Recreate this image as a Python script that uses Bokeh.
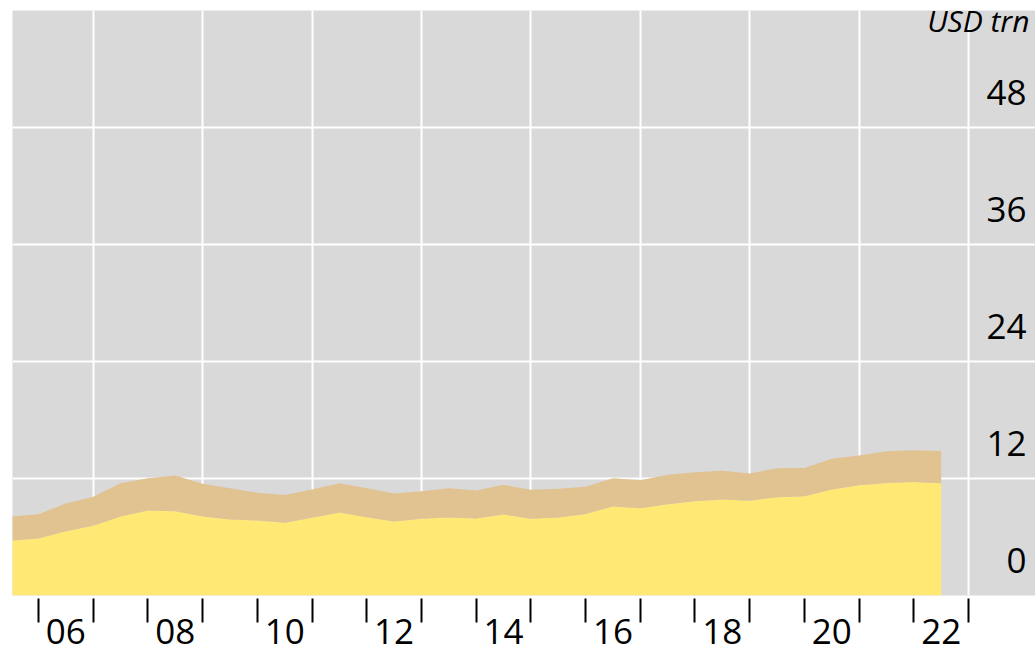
from bokeh.plotting import figure
from bokeh.models import ColumnDataSource, FixedTicker, LabelSet, Label
from bokeh.core.properties import value
from bokeh.embed import file_html
from bokeh.resources import INLINE

# Half-yearly observations (decimal year positions)
periods = [2005.5, 2006.0, 2006.5, 2007.0, 2007.5, 2008.0, 2008.5, 2009.0, 2009.5,
           2010.0, 2010.5, 2011.0, 2011.5, 2012.0, 2012.5, 2013.0, 2013.5, 2014.0,
           2014.5, 2015.0, 2015.5, 2016.0, 2016.5, 2017.0, 2017.5, 2018.0, 2018.5,
           2019.0, 2019.5, 2020.0, 2020.5, 2021.0, 2021.5, 2022.0, 2022.5]

# Lower (yellow) series, USD trn
lower = [5.64, 5.85, 6.60, 7.15, 8.10, 8.72, 8.65, 8.10, 7.79, 7.69, 7.45, 7.97,
         8.51, 8.03, 7.59, 7.86, 8.00, 7.90, 8.31, 7.88, 7.99, 8.37, 9.14, 8.96,
         9.35, 9.66, 9.84, 9.73, 10.08, 10.19, 10.88, 11.30, 11.55, 11.65, 11.51]

# Upper (tan) series, stacked on top, USD trn
upper = [2.46, 2.49, 2.84, 2.97, 3.42, 3.31, 3.66, 3.35, 3.22, 2.84, 2.87, 2.90,
         3.01, 2.98, 2.87, 2.84, 3.01, 2.87, 3.04, 2.97, 2.96, 2.78, 2.89, 2.86,
         3.03, 2.97, 2.96, 2.79, 2.97, 2.89, 3.14, 3.07, 3.24, 3.24, 3.31]

# Axis ticks / labels
year_ticks = [2006, 2007, 2008, 2009, 2010, 2011, 2012, 2013, 2014, 2015, 2016,
              2017, 2018, 2019, 2020, 2021, 2022, 2023]
grid_years = [2007, 2009, 2011, 2013, 2015, 2017, 2019, 2021, 2023]
x_label_pos = [2006.5, 2008.5, 2010.5, 2012.5, 2014.5, 2016.5, 2018.5, 2020.5, 2022.5]
x_label_text = ["06", "08", "10", "12", "14", "16", "18", "20", "22"]
y_ticks = [0, 12, 24, 36, 48]
y_grid = [12, 24, 36, 48]
y_label_text = ["0", "12", "24", "36", "48"]
unit_label = "USD trn"

X_START, X_END = 2005.525, 2024.224
Y_START, Y_END = 0, 60

FONT = "Open Sans"
YELLOW = "#FFE974"
TAN = "#E1C291"
BG = "#D9D9D9"

p = figure(width=1035, height=652, output_backend="svg", toolbar_location=None,
           x_range=(X_START, X_END), y_range=(Y_START, Y_END),
           y_axis_location=None, x_axis_location="below",
           min_border_left=12, min_border_right=0, min_border_top=10, min_border_bottom=57)
p.background_fill_color = BG
p.border_fill_color = "white"
p.outline_line_color = None

src = ColumnDataSource(dict(x=periods, lower=lower, upper=upper))
p.varea_stack(["lower", "upper"], x="x", color=[YELLOW, TAN], source=src)

# Grids
p.xgrid.ticker = FixedTicker(ticks=grid_years)
p.ygrid.ticker = FixedTicker(ticks=y_grid)
for g in (p.xgrid, p.ygrid):
    g.grid_line_color = "white"
    g.grid_line_width = 2

# X axis: year-start tick marks, labels centred in even years
ax = p.xaxis[0]
ax.ticker = FixedTicker(ticks=x_label_pos, minor_ticks=year_ticks)
ax.major_label_overrides = {pos: txt for pos, txt in zip(x_label_pos, x_label_text)}
ax.axis_line_color = None
ax.major_tick_line_color = None
ax.major_tick_out = 0
ax.major_tick_in = 0
ax.major_label_standoff = -4
ax.major_label_text_font = FONT
ax.major_label_text_font_size = "35px"
ax.major_label_text_color = "black"
ax.minor_tick_line_color = "black"
ax.minor_tick_line_width = 2
ax.minor_tick_out = 27
ax.minor_tick_in = -3

# Y labels inside plot area on the right
yl_src = ColumnDataSource(dict(y=y_ticks, text=y_label_text))
p.add_layout(LabelSet(x=X_END, y="y", text="text", source=yl_src, x_offset=-9, y_offset=23,
                      text_align="right", text_baseline="alphabetic",
                      text_font=value(FONT), text_font_size="35px", text_color="black"))

p.add_layout(Label(x=X_END, y=Y_END, text=unit_label, x_offset=-6, y_offset=-10,
                   text_align="right", text_baseline="alphabetic",
                   text_font=FONT, text_font_style="italic", text_font_size="30px",
                   text_color="black"))

open("out.html", "w").write(file_html(p, INLINE))
